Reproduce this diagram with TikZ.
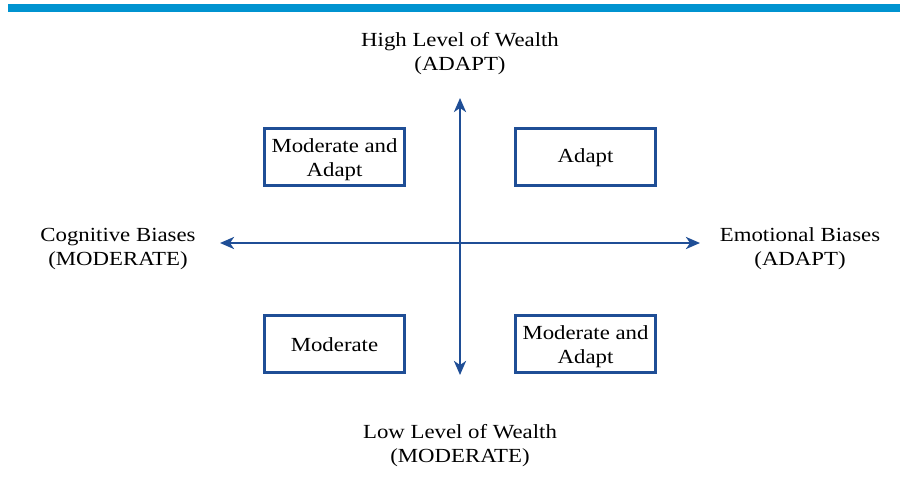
\documentclass[tikz,border=0pt]{standalone}
\usepackage{fontspec}
\setmainfont{Liberation Serif}[FakeStretch=1.14]
\usetikzlibrary{arrows.meta}
\definecolor{barblue}{HTML}{0093D0}
\definecolor{darkblue}{HTML}{1F4E96}
\begin{document}
\begin{tikzpicture}[x=1pt,y=-1pt,
  lbl/.style={align=center,font=\fontsize{20}{24}\selectfont,inner sep=0pt},
  qbox/.style={draw=darkblue,line width=2.8pt,minimum width=140pt,minimum height=57pt,inner sep=0pt},
  axis/.style={draw=darkblue,line width=2.8pt,{Stealth[length=14pt,width=12pt,inset=4pt]}-{Stealth[length=14pt,width=12pt,inset=4pt]}}
]
\useasboundingbox (0,0) rectangle (904,487);
\fill[barblue] (8,4) rectangle (900,12);
\coordinate (top) at (460,98);
\coordinate (bot) at (460,375);
\coordinate (lft) at (220,243);
\coordinate (rgt) at (700,243);
\draw[axis] (bot) -- (top);
\draw[axis] (lft) -- (rgt);
\node[qbox] (tl) at (334.5,157) {};
\node[qbox] (tr) at (585.5,157) {};
\node[qbox] (bl) at (334.5,344) {};
\node[qbox] (br) at (585.5,344) {};
\node[lbl] (tlt) at ([yshift=-3pt]tl.center) {Moderate and\\Adapt};
\node[lbl] (trt) at ([yshift=-1pt]tr.center) {Adapt};
\node[lbl] (blt) at ([yshift=-1pt]bl.center) {Moderate};
\node[lbl] (brt) at ([yshift=-3pt]br.center) {Moderate and\\Adapt};
\node[lbl] (high) at (460,54) {High Level of Wealth\\(ADAPT)};
\node[lbl] (low) at (460,446) {Low Level of Wealth\\(MODERATE)};
\node[lbl] (cog) at (118,249) {Cognitive Biases\\(MODERATE)};
\node[lbl] (emo) at (800,249) {Emotional Biases\\(ADAPT)};
\end{tikzpicture}
\end{document}
